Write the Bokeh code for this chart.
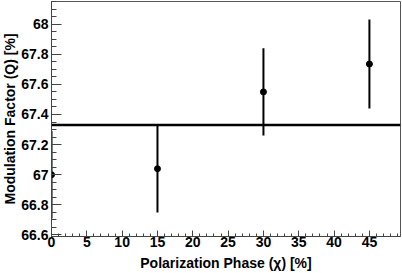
from bokeh.plotting import figure
from bokeh.models import ColumnDataSource, Span, FixedTicker
from bokeh.embed import file_html
from bokeh.resources import INLINE

# Data
phase = [0, 15, 30, 45]
modulation = [67.00, 67.04, 67.55, 67.735]
error = [0.29, 0.29, 0.29, 0.295]
fit_level = 67.33

x_ticks = [0, 5, 10, 15, 20, 25, 30, 35, 40, 45]
x_minor = list(range(0, 50))
y_ticks = [66.6, 66.8, 67.0, 67.2, 67.4, 67.6, 67.8, 68.0]
y_tick_labels = ["66.6", "66.8", "67", "67.2", "67.4", "67.6", "67.8", "68"]
y_minor = [round(66.55 + 0.05 * i, 2) for i in range(33)]

src = ColumnDataSource(dict(
    x=phase, y=modulation,
    lo=[m - e for m, e in zip(modulation, error)],
    hi=[m + e for m, e in zip(modulation, error)],
))

FONT = "Liberation Sans"

p = figure(width=410, height=281, x_range=(0, 49.4), y_range=(66.59, 68.15),
           output_backend="svg", toolbar_location=None,
           min_border_left=59, min_border_right=2, min_border_top=9, min_border_bottom=37)
p.styles = {"margin": "-8px -8px -8px -8px"}
p.xgrid.visible = False
p.ygrid.visible = False
p.outline_line_color = "#555555"
p.outline_line_width = 1
p.background_fill_color = "white"
p.border_fill_color = "white"

p.add_layout(Span(location=fit_level, dimension="width", line_color="black", line_width=2.5))
p.segment(x0="x", y0="lo", x1="x", y1="hi", source=src, line_color="black", line_width=2)
p.scatter(x="x", y="y", source=src, size=6, color="black")

for ax in (p.xaxis[0], p.yaxis[0]):
    ax.axis_line_color = "#444444"
    ax.major_tick_line_color = "#444444"
    ax.minor_tick_line_color = "#444444"
    ax.major_tick_out = 0
    ax.minor_tick_out = 0
    ax.major_label_text_font = FONT
    ax.major_label_text_font_style = "bold"
    ax.major_label_text_font_size = "14px"
    ax.major_label_text_color = "black"
    ax.axis_label_text_font = FONT
    ax.axis_label_text_font_style = "bold"
    ax.axis_label_text_font_size = "14px"
    ax.axis_label_text_color = "black"

p.xaxis[0].major_tick_in = 6
p.xaxis[0].minor_tick_in = 3
p.yaxis[0].major_tick_in = 10
p.yaxis[0].minor_tick_in = 5

p.xaxis[0].ticker = FixedTicker(ticks=x_ticks, minor_ticks=x_minor)
p.yaxis[0].ticker = FixedTicker(ticks=y_ticks, minor_ticks=y_minor)
p.yaxis[0].major_label_overrides = {t: l for t, l in zip(y_ticks, y_tick_labels)}
p.xaxis[0].axis_label = "Polarization Phase (χ) [%]"
p.yaxis[0].axis_label = "Modulation Factor (Q) [%]"
p.xaxis[0].major_label_standoff = 0
p.xaxis[0].axis_label_standoff = 5
p.yaxis[0].major_label_standoff = 3
p.yaxis[0].axis_label_standoff = 0

open("out.html", "w").write(file_html(p, INLINE))
